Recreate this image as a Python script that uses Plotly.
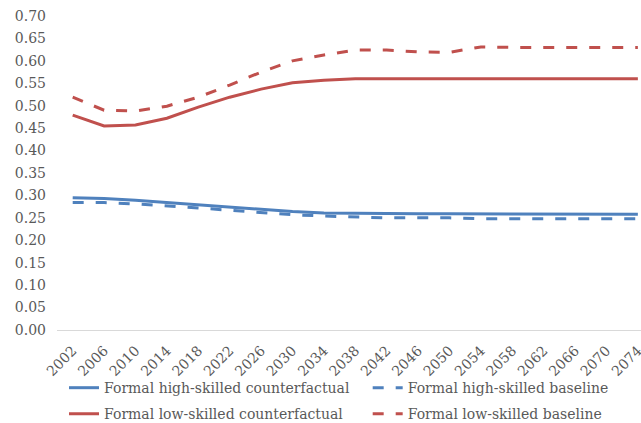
import plotly.graph_objects as go

years = [str(y) for y in range(2002, 2075, 4)]

high_cf = [0.295, 0.293, 0.289, 0.284, 0.278, 0.273, 0.268, 0.264, 0.261, 0.260,
           0.259, 0.259, 0.259, 0.259, 0.258, 0.258, 0.258, 0.258, 0.258]
high_base = [0.284, 0.284, 0.281, 0.277, 0.272, 0.267, 0.262, 0.257, 0.254, 0.252,
             0.250, 0.250, 0.250, 0.248, 0.248, 0.248, 0.248, 0.248, 0.248]
low_cf = [0.479, 0.455, 0.457, 0.472, 0.497, 0.519, 0.537, 0.551, 0.557, 0.560,
          0.560, 0.560, 0.560, 0.560, 0.560, 0.560, 0.560, 0.560, 0.560]
low_base = [0.519, 0.490, 0.488, 0.499, 0.519, 0.546, 0.575, 0.600, 0.613, 0.624,
            0.624, 0.620, 0.619, 0.631, 0.630, 0.630, 0.630, 0.630, 0.630]

names = ["Formal high-skilled counterfactual", "Formal high-skilled baseline",
         "Formal low-skilled counterfactual", "Formal low-skilled baseline"]
series = [high_cf, high_base, low_cf, low_base]
colors = ["#4F81BD", "#4F81BD", "#C0504D", "#C0504D"]
dashes = ["solid", "11px,12px", "solid", "11px,12px"]
legend_ids = ["legend", "legend2", "legend3", "legend4"]
legend_xy = [(0.012, -0.185), (0.532, -0.185), (0.012, -0.268), (0.532, -0.268)]

FONT = "DejaVu Serif"
GRAY = "#595959"

fig = go.Figure()
for n, s, c, d, lg in zip(names, series, colors, dashes, legend_ids):
    fig.add_trace(go.Scatter(x=years, y=s, name=n, mode="lines", legend=lg,
                             line=dict(color=c, width=3, dash=d)))

leg_layout = {}
for lg, (lx, ly) in zip(legend_ids, legend_xy):
    leg_layout[lg] = dict(x=lx, y=ly, orientation="h", xanchor="left",
                          yanchor="middle",
                          font=dict(family=FONT, size=14, color=GRAY),
                          bgcolor="rgba(0,0,0,0)", borderwidth=0)

fig.update_layout(
    width=641, height=423,
    margin=dict(l=57, r=0, t=16, b=93, autoexpand=False),
    paper_bgcolor="white", plot_bgcolor="white",
    font=dict(family=FONT, size=14, color=GRAY),
    showlegend=True,
    xaxis=dict(type="category", range=[-0.5, 18.1], tickangle=-45,
               showgrid=False, showline=True, linecolor="#D9D9D9", linewidth=1,
               ticks="", automargin=False, ticklabelstandoff=6,
               tickfont=dict(family=FONT, size=14, color=GRAY)),
    yaxis=dict(range=[0, 0.70], dtick=0.05, tickformat=".2f", showgrid=False,
               zeroline=False, showline=False, ticks="", automargin=False,
               ticklabelstandoff=10,
               tickfont=dict(family=FONT, size=14, color=GRAY)),
    **leg_layout,
)

fig.write_html("out.html", config={"displayModeBar": False},
               post_script="document.body.style.margin='0';document.body.style.padding='0';")
